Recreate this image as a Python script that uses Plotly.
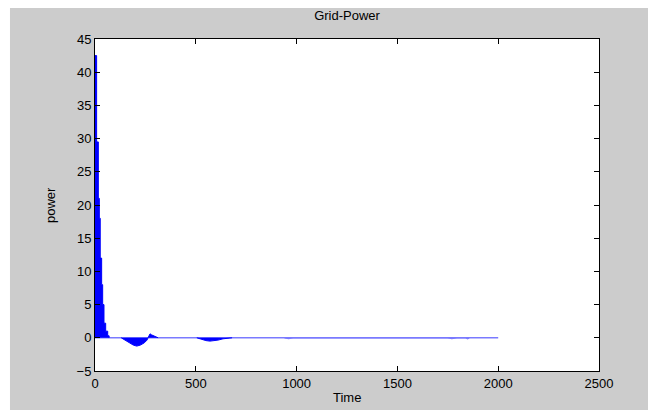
import plotly.graph_objects as go

# ---- data ----
# initial decaying oscillation (upper envelope, stepped)
spike_time = [0, 8, 16.5, 21.5, 26, 33, 38, 44.6, 53, 63, 70]
spike_power = [42.5, 29.5, 21, 18, 12, 8, 5, 2.2, 1.0, 0.3, 0.0]

# first negative dip and small positive bump after it
dip1_time = [130, 150, 170, 190, 207, 225, 245, 258, 263, 268, 273, 280, 290, 300, 313]
dip1_power = [0, -0.35, -0.75, -1.1, -1.25, -1.1, -0.75, -0.35, 0, 0.3, 0.6, 0.45, 0.35, 0.15, 0]

# second, shallower dip
dip2_time = [505, 530, 550, 570, 590, 610, 635, 660, 680]
dip2_power = [0, -0.25, -0.42, -0.5, -0.45, -0.35, -0.15, -0.05, 0]

# small blips further on
blip_time = [940, 960, 982, 1750, 1770, 1795, 1840, 1848, 1856]
blip_power = [0, -0.12, 0, 0, -0.12, 0, 0, -0.12, 0]

# steady-state line
base_time = [0, 2000]
base_power = [0, 0]

x_ticks = [0, 500, 1000, 1500, 2000, 2500]
y_ticks = [-5, 0, 5, 10, 15, 20, 25, 30, 35, 40, 45]

BLUE = "#0000ff"
LIGHT = "#7a7aff"

fig = go.Figure()
fig.add_trace(go.Scatter(x=base_time, y=base_power, mode="lines",
                         line=dict(color=LIGHT, width=1.6), hoverinfo="skip"))
fig.add_trace(go.Scatter(x=spike_time, y=spike_power, mode="lines",
                         line=dict(color=BLUE, width=1, shape="hv"),
                         fill="tozeroy", fillcolor=BLUE))
fig.add_trace(go.Scatter(x=dip1_time, y=dip1_power, mode="lines",
                         line=dict(color=BLUE, width=1),
                         fill="tozeroy", fillcolor=BLUE))
fig.add_trace(go.Scatter(x=dip2_time, y=dip2_power, mode="lines",
                         line=dict(color=BLUE, width=1),
                         fill="tozeroy", fillcolor=BLUE))
fig.add_trace(go.Scatter(x=blip_time, y=blip_power, mode="lines",
                         line=dict(color=LIGHT, width=1.5)))

font = dict(family="Liberation Sans, Arial, sans-serif", size=13, color="#000000")

fig.update_layout(
    width=648, height=410,
    margin=dict(l=95, r=49, t=39, b=39, autoexpand=False),
    paper_bgcolor="#cccccc",
    plot_bgcolor="#ffffff",
    showlegend=False,
    font=font,
    title=dict(text="Grid-Power", x=(347 / 648), xanchor="center",
               y=1 - 15 / 410, yanchor="middle", font=dict(size=13)),
    xaxis=dict(range=[0, 2500], tickvals=x_ticks, ticks="inside", ticklen=5,
               tickcolor="#000000", showline=True, linecolor="#000000", linewidth=1,
               mirror="ticks", showgrid=False, zeroline=False, automargin=False,
               tickfont=dict(size=13)),
    yaxis=dict(range=[-5, 45], tickvals=y_ticks, ticks="inside", ticklen=5,
               tickcolor="#000000", showline=True, linecolor="#000000", linewidth=1,
               mirror="ticks", showgrid=False, zeroline=False, automargin=False,
               tickfont=dict(size=13)),
    annotations=[
        dict(text="Time", xref="paper", yref="paper", x=0.5, y=(371 - 397) / 332,
             xanchor="center", yanchor="middle", showarrow=False, font=dict(size=13)),
        dict(text="power", xref="paper", yref="paper", x=(50 - 95) / 504, y=0.5,
             xanchor="center", yanchor="middle", textangle=-90, showarrow=False,
             font=dict(size=13)),
    ],
    shapes=[
        dict(type="rect", xref="paper", yref="paper", x0=-0.19, x1=-0.1687,
             y0=-0.12, y1=1.12, fillcolor="#ffffff", line=dict(width=0), layer="above"),
        dict(type="rect", xref="paper", yref="paper", x0=-0.19, x1=1.1,
             y0=1.0934, y1=1.12, fillcolor="#ffffff", line=dict(width=0), layer="above"),
    ],
)

fig.write_html("out.html")
